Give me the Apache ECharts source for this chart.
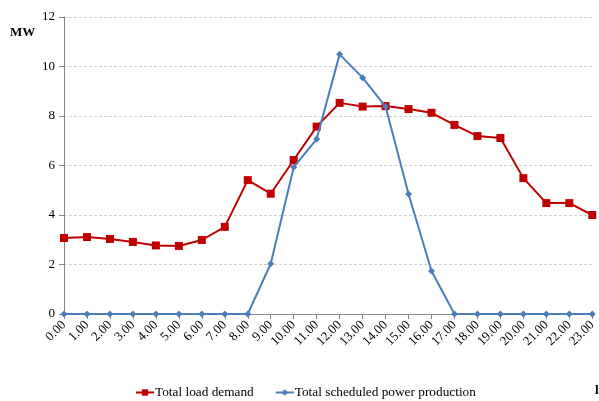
<!DOCTYPE html>
<html>
<head>
<meta charset="utf-8">
<script src="https://cdn.jsdelivr.net/npm/echarts@6/dist/echarts.min.js"></script>
<style>
  html, body { margin: 0; padding: 0; background: #fff; }
  #chart { width: 599px; height: 401px; }
</style>
</head>
<body>
<div id="chart"></div>
<script>
// Hours of the day
const hours = ['0.00','1.00','2.00','3.00','4.00','5.00','6.00','7.00','8.00','9.00','10.00','11.00',
               '12.00','13.00','14.00','15.00','16.00','17.00','18.00','19.00','20.00','21.00','22.00','23.00'];

// Total load demand (MW)
const loadDemand = [3.07, 3.11, 3.03, 2.91, 2.77, 2.75, 2.99, 3.52, 5.41, 4.86, 6.22, 7.57,
                    8.53, 8.38, 8.40, 8.28, 8.13, 7.64, 7.19, 7.11, 5.49, 4.48, 4.48, 4.00];

// Total scheduled power production (MW)
const scheduledProduction = [0, 0, 0, 0, 0, 0, 0, 0, 0, 2.03, 5.93, 7.07,
                             10.49, 9.55, 8.38, 4.85, 1.74, 0, 0, 0, 0, 0, 0, 0];

const yTicks = { min: 0, max: 12, interval: 2 };

const FONT = '"Liberation Serif", "DejaVu Serif", serif';
const RED = '#C00000';
const BLUE = '#4A7EBB';
const AXIS = '#868686';

const chart = echarts.init(document.getElementById('chart'));
chart.setOption({
  animation: false,
  backgroundColor: '#fff',
  textStyle: { fontFamily: FONT },
  grid: { left: 64, right: 4, top: 17, bottom: 87, containLabel: false },
  legend: {
    top: 381,
    left: 130,
    itemGap: 21,
    itemWidth: 18,
    itemHeight: 8,
    textStyle: { fontFamily: FONT, fontSize: 13.3, color: '#000', padding: [0, 0, 0, -4] },
    data: ['Total load demand', 'Total scheduled power production']
  },
  graphic: [
    { type: 'text', left: 10, top: 26, style: { text: 'MW', font: 'bold 13px ' + FONT, fill: '#000' } },
    { type: 'text', left: 595, top: 384, style: { text: 'h', font: 'bold 13px ' + FONT, fill: '#000' } }
  ],
  xAxis: {
    type: 'category',
    data: hours,
    boundaryGap: false,
    axisLine: { lineStyle: { color: AXIS, width: 1 } },
    axisTick: { alignWithLabel: true, length: 5, lineStyle: { color: AXIS } },
    axisLabel: { rotate: 45, fontFamily: FONT, fontSize: 13, color: '#000', margin: 9, interval: 0 },
    splitLine: { show: false }
  },
  yAxis: {
    type: 'value',
    min: yTicks.min,
    max: yTicks.max,
    interval: yTicks.interval,
    axisLine: { show: true, lineStyle: { color: AXIS, width: 1 } },
    axisTick: { show: true, length: 5, lineStyle: { color: AXIS } },
    axisLabel: { fontFamily: FONT, fontSize: 13, color: '#000', margin: 9 },
    splitLine: { show: true, lineStyle: { color: '#D0D0D0', type: [3, 2], width: 1 } }
  },
  series: [
    {
      name: 'Total load demand',
      type: 'line',
      data: loadDemand,
      symbol: 'rect',
      symbolSize: 8,
      lineStyle: { color: RED, width: 2 },
      itemStyle: { color: RED },
      z: 3
    },
    {
      name: 'Total scheduled power production',
      type: 'line',
      data: scheduledProduction,
      symbol: 'diamond',
      symbolSize: 7,
      lineStyle: { color: BLUE, width: 2 },
      itemStyle: { color: BLUE },
      z: 4
    }
  ]
});
</script>
</body>
</html>
